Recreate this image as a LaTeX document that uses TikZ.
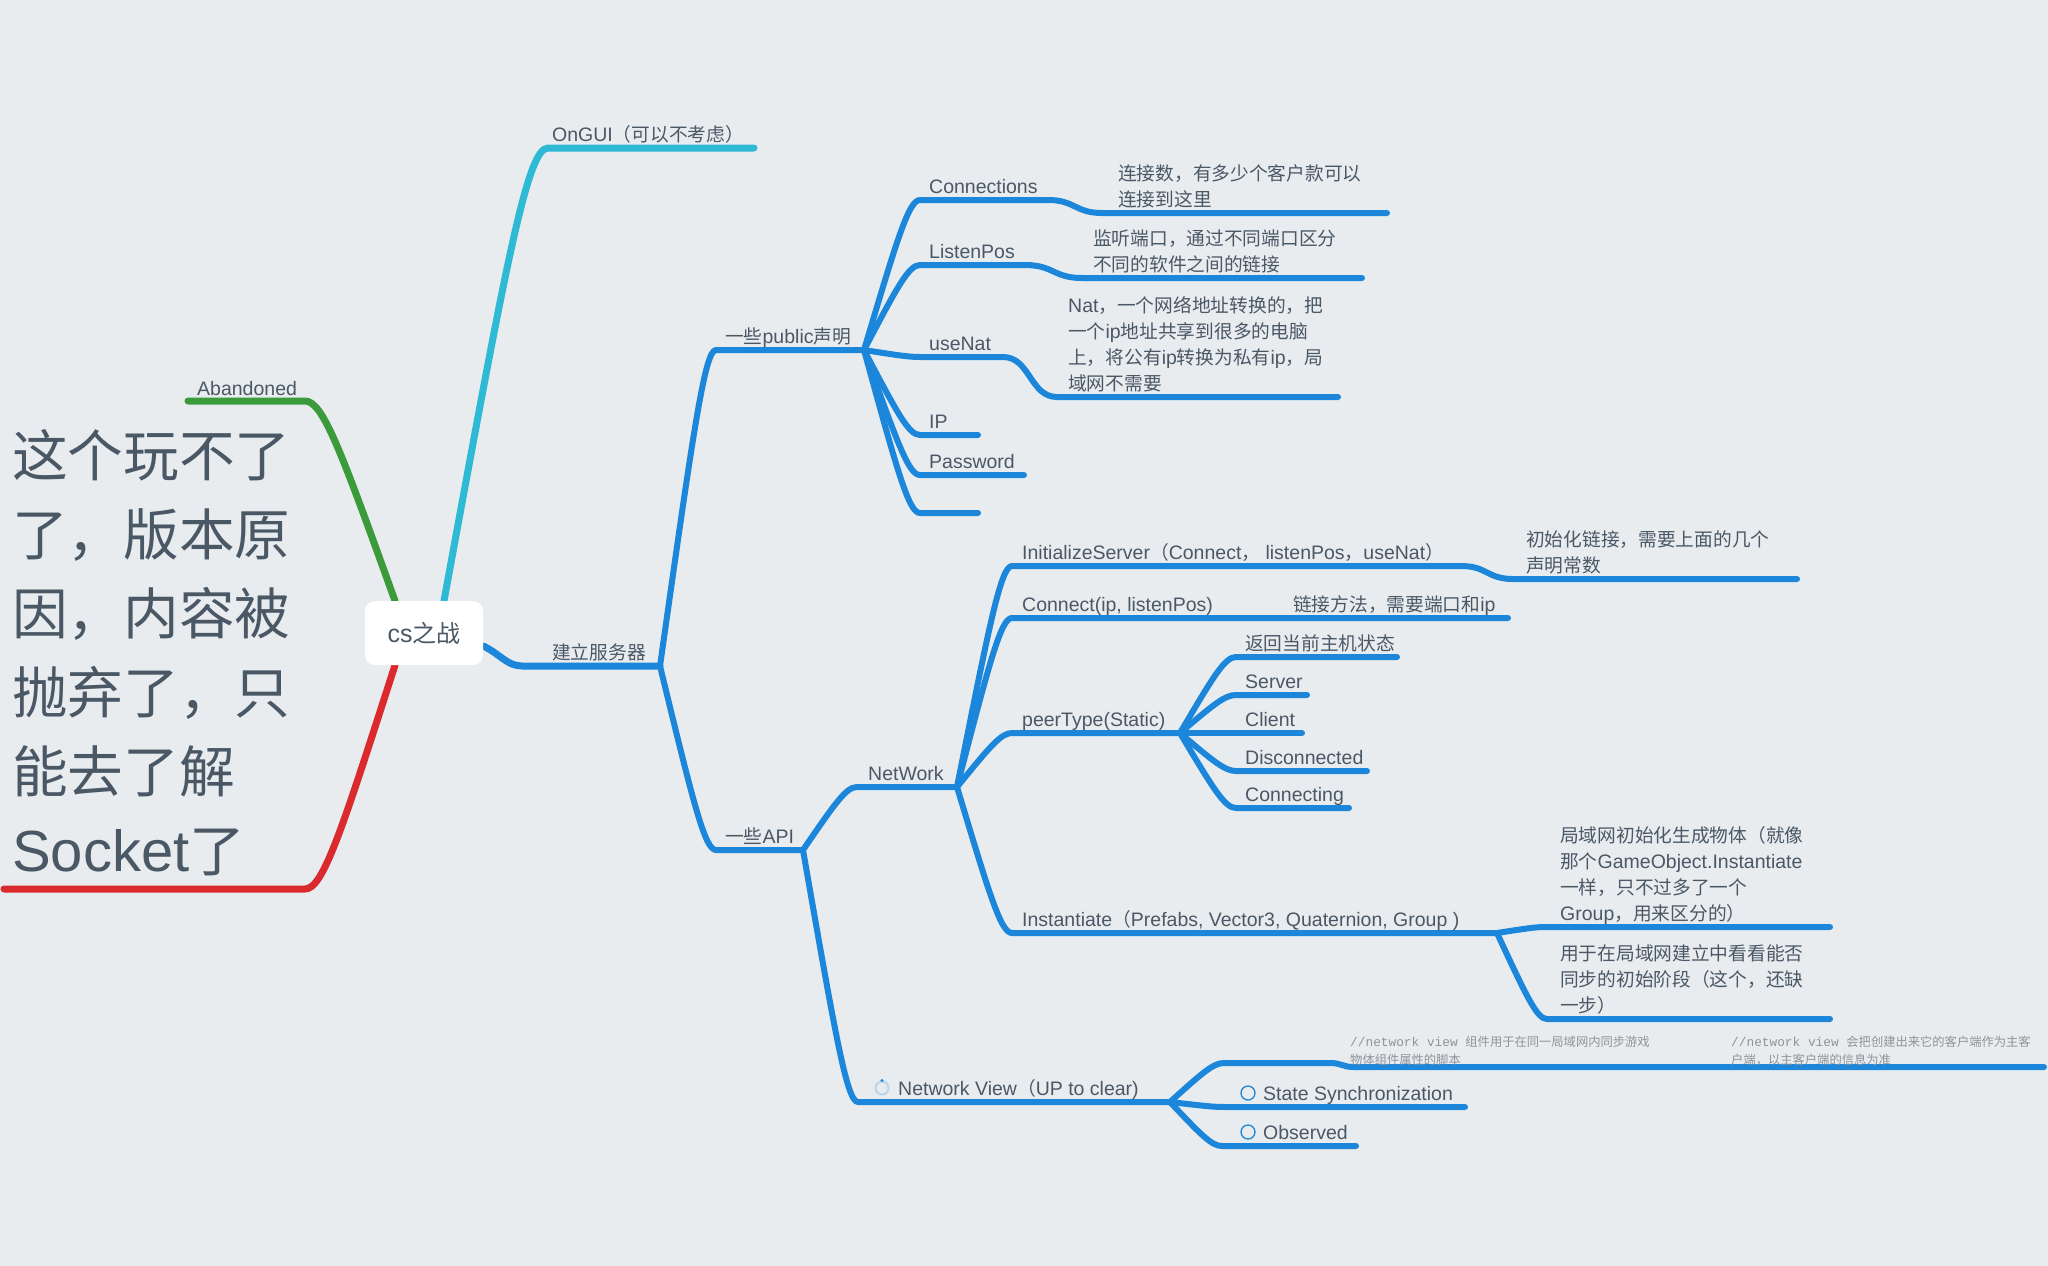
\documentclass[tikz,border=0pt]{standalone}
\usepackage{fontspec}
\setmainfont{Liberation Sans}
\newfontfamily\cjk{Noto Sans CJK SC}[Scale=0.96]
\newfontfamily\mono{Liberation Mono}
\usetikzlibrary{calc,backgrounds}

\definecolor{bg}{HTML}{E8ECEF}
\definecolor{ink}{HTML}{4A5866}
\definecolor{notegray}{HTML}{8E9499}
\definecolor{mmblue}{HTML}{1B86DA}
\definecolor{mmcyan}{HTML}{2EBAD5}
\definecolor{mmgreen}{HTML}{3B9B3B}
\definecolor{mmred}{HTML}{DA2A2E}
\definecolor{ringlight}{HTML}{BCD5EB}

\tikzset{
  % branch curve: steep run out of the parent, rounding into the child's underline
  mm/.style={to path={let \p1=(\tikztostart), \p2=(\tikztotarget) in
      .. controls ({\x1+0.6*(\x2-\x1)},{\y1+0.75*(\y2-\y1)}) and ({\x1+0.8*(\x2-\x1)},\y2) .. (\tikztotarget)}},
  % small step between two horizontal underline levels
  dip/.style={to path={let \p1=(\tikztostart), \p2=(\tikztotarget) in
      .. controls ({0.5*(\x1+\x2)},\y1) and ({0.5*(\x1+\x2)},\y2) .. (\tikztotarget)}},
  wire/.style={draw=mmblue, line width=6pt, line cap=round, line join=round},
  trunk/.style={wire, line width=7pt},
  lbl/.style={anchor=base west, inner sep=0pt, text=ink, font=\fontsize{19.5}{26}\selectfont},
  notetext/.style={anchor=base west, inner sep=0pt, text=notegray, font=\fontsize{12.8}{18}\selectfont},
  bigtext/.style={anchor=base west, inner sep=0pt, text=ink, font=\fontsize{58}{79}\selectfont},
  ring/.style={circle, draw=mmblue, line width=1.3pt, minimum size=14pt, inner sep=0pt},
}

\begin{document}
\begin{tikzpicture}[x=1pt, y=-1pt]
\useasboundingbox (0,0) rectangle (2048,1266);

% central topic
\node[fill=white, rounded corners=10pt, minimum width=118pt, minimum height=64pt,
      inner sep=0pt, text=ink, font=\fontsize{25}{28}\selectfont] (root) at (424,633) {cs{\cjk 之战}};

% branch anchor points
\coordinate (cyS0) at ($(root.north)+(20,0)$);
\coordinate (grS0) at ($(root.north)+(-29,0)$);
\coordinate (rdS0) at ($(root.south)+(-29,0)$);
\coordinate (blS0) at ($(root.east)+(0,13)$);

\coordinate (guiS) at (548,148);  \coordinate (guiE) at (754,148);
\coordinate (abS)  at (305,401);  \coordinate (abE)  at (188,401);
\coordinate (rdS)  at (305,889);  \coordinate (rdE)  at (4,889);
\coordinate (srvS) at (522,666);  \coordinate (srvE) at (660,666);

\coordinate (pubS) at (716,350);  \coordinate (pubE) at (864,350);
\coordinate (apiS) at (716,850);  \coordinate (apiE) at (803,850);

\coordinate (conS) at (920,200);  \coordinate (conA) at (1048,200);
\coordinate (conB) at (1102,213); \coordinate (conE) at (1387,213);
\coordinate (lisS) at (920,265);  \coordinate (lisA) at (1025,265);
\coordinate (lisB) at (1082,278); \coordinate (lisE) at (1362,278);
\coordinate (natS) at (920,357);  \coordinate (natA) at (1003,357);
\coordinate (natB) at (1057,397); \coordinate (natE) at (1338,397);
\coordinate (ipS)  at (920,435);  \coordinate (ipE)  at (978,435);
\coordinate (pwS)  at (920,475);  \coordinate (pwE)  at (1024,475);
\coordinate (nilS) at (920,513);  \coordinate (nilE) at (978,513);

\coordinate (netS) at (857,787);  \coordinate (netE) at (957,787);
\coordinate (nvS)  at (858,1102); \coordinate (nvE)  at (1170,1102);

\coordinate (isS) at (1012,566);  \coordinate (isA) at (1461,566);
\coordinate (isB) at (1513,579);  \coordinate (isE) at (1797,579);
\coordinate (cnS) at (1012,618);  \coordinate (cnA) at (1285,618);
\coordinate (cnE) at (1508,618);
\coordinate (ptS) at (1012,733);  \coordinate (ptE) at (1180,733);
\coordinate (inS) at (1012,933);  \coordinate (inE) at (1497,933);

\coordinate (p1S) at (1236,657);  \coordinate (p1E) at (1397,657);
\coordinate (p2S) at (1236,695);  \coordinate (p2E) at (1307,695);
\coordinate (p3S) at (1236,733);  \coordinate (p3E) at (1302,733);
\coordinate (p4S) at (1236,771);  \coordinate (p4E) at (1367,771);
\coordinate (p5S) at (1236,808);  \coordinate (p5E) at (1349,808);

\coordinate (i1S) at (1545,927);  \coordinate (i1E) at (1830,927);
\coordinate (i2S) at (1547,1019); \coordinate (i2E) at (1830,1019);

\coordinate (c1S) at (1224,1063); \coordinate (c1A) at (1330,1063);
\coordinate (c1B) at (1354,1067); \coordinate (c1M) at (1722,1067);
\coordinate (c1E) at (2044,1067);
\coordinate (ssS) at (1224,1107); \coordinate (ssE) at (1465,1107);
\coordinate (obS) at (1222,1146); \coordinate (obE) at (1356,1146);

% labels
\node[lbl] (ongui) at (552,141) {OnGUI{\cjk （可以不考虑）}};
\node[lbl] (aband) at (197,395) {Abandoned};
\node[bigtext] (socket) at (12,476) {\vtop{\hbox{\cjk 这个玩不了}\hbox{\cjk 了，版本原}\hbox{\cjk 因，内容被}\hbox{\cjk 抛弃了，只}\hbox{\cjk 能去了解}\hbox{Socket{\cjk 了}}}};
\node[lbl] (server) at (552,659) {{\cjk 建立服务器}};
\node[lbl] (pub) at (725,343) {{\cjk 一些}public{\cjk 声明}};
\node[lbl] (api) at (725,843) {{\cjk 一些}API};

\node[lbl] (conn) at (929,193) {Connections};
\node[lbl] (connD) at (1118,180) {\vtop{\hbox{\cjk 连接数，有多少个客户款可以}\hbox{\cjk 连接到这里}}};
\node[lbl] (listen) at (929,258) {ListenPos};
\node[lbl] (listenD) at (1093,245) {\vtop{\hbox{\cjk 监听端口，通过不同端口区分}\hbox{\cjk 不同的软件之间的链接}}};
\node[lbl] (nat) at (929,350) {useNat};
\node[lbl] (natD) at (1068,312) {\vtop{\hbox{Nat{\cjk ，一个网络地址转换的，把}}\hbox{{\cjk 一个}ip{\cjk 地址共享到很多的电脑}}\hbox{{\cjk 上，将公有}ip{\cjk 转换为私有}ip{\cjk ，局}}\hbox{\cjk 域网不需要}}};
\node[lbl] (ip) at (929,428) {IP};
\node[lbl] (pw) at (929,468) {Password};

\node[lbl] (net) at (868,780) {NetWork};
\node[lbl] (init) at (1022,559) {InitializeServer{\cjk （}Connect{\cjk ，}\ listenPos{\cjk ，}useNat{\cjk ）}};
\node[lbl] (initD) at (1526,546) {\vtop{\hbox{\cjk 初始化链接，需要上面的几个}\hbox{\cjk 声明常数}}};
\node[lbl] (connect) at (1022,611) {Connect(ip, listenPos)};
\node[lbl] (connectD) at (1293,611) {{\cjk 链接方法，需要端口和}ip};
\node[lbl] (peer) at (1022,726) {peerType(Static)};
\node[lbl] (st0) at (1245,650) {{\cjk 返回当前主机状态}};
\node[lbl] (st1) at (1245,688) {Server};
\node[lbl] (st2) at (1245,726) {Client};
\node[lbl] (st3) at (1245,764) {Disconnected};
\node[lbl] (st4) at (1245,801) {Connecting};
\node[lbl] (inst) at (1022,926) {Instantiate{\cjk （}Prefabs, Vector3, Quaternion, Group )};
\node[lbl] (instD1) at (1560,842) {\vtop{\hbox{\cjk 局域网初始化生成物体（就像}\hbox{{\cjk 那个}GameObject.Instantiate}\hbox{\cjk 一样，只不过多了一个}\hbox{Group{\cjk ，用来区分的）}}}};
\node[lbl] (instD2) at (1560,960) {\vtop{\hbox{\cjk 用于在局域网建立中看看能否}\hbox{\cjk 同步的初始阶段（这个，还缺}\hbox{\cjk 一步）}}};

\node[circle, draw=ringlight, line width=2pt, minimum size=13pt, inner sep=0pt] (nvIcon) at (882,1088) {};
\fill[mmblue] (nvIcon.north) circle (1.7);
\node[lbl] (nview) at (898,1095) {Network View{\cjk （}UP to clear)};
\node[notetext] (nvD1) at (1350,1046) {\vtop{\hbox{{\mono //network view }{\cjk 组件用于在同一局域网内同步游戏}}\hbox{\cjk 物体组件属性的脚本}}};
\node[notetext] (nvD2) at (1731,1046) {\vtop{\hbox{{\mono //network view }{\cjk 会把创建出来它的客户端作为主客}}\hbox{\cjk 户端，以主客户端的信息为准}}};
\node[ring] (syncIcon) at (1248,1093) {};
\node[lbl] (sync) at (1263,1100) {State Synchronization};
\node[ring] (obsIcon) at (1248,1132) {};
\node[lbl] (obs) at (1263,1139) {Observed};

% connectors
\begin{scope}[on background layer]
\fill[bg] (0,0) rectangle (2048,1266);
\draw[trunk, draw=mmgreen] (grS0) to[mm] (abS) -- (abE);
\draw[trunk, draw=mmred] (rdS0) to[mm] (rdS) -- (rdE);
\draw[trunk, draw=mmcyan] (cyS0) to[mm] (guiS) -- (guiE);
\draw[trunk] (blS0) .. controls +(17,8) and +(-15,0) .. (srvS) -- (srvE);

\draw[wire] (srvE) to[mm] (pubS) -- (pubE);
\draw[wire] (srvE) to[mm] (apiS) -- (apiE);

\draw[wire] (pubE) to[mm] (conS) -- (conA) to[dip] (conB) -- (conE);
\draw[wire] (pubE) to[mm] (lisS) -- (lisA) to[dip] (lisB) -- (lisE);
\draw[wire] (pubE) to[mm] (natS) -- (natA) to[dip] (natB) -- (natE);
\draw[wire] (pubE) to[mm] (ipS) -- (ipE);
\draw[wire] (pubE) to[mm] (pwS) -- (pwE);
\draw[wire] (pubE) to[mm] (nilS) -- (nilE);

\draw[wire] (apiE) to[mm] (netS) -- (netE);
\draw[wire] (apiE) to[mm] (nvS) -- (nvE);

\draw[wire] (netE) to[mm] (isS) -- (isA) to[dip] (isB) -- (isE);
\draw[wire] (netE) to[mm] (cnS) -- (cnA) -- (cnE);
\draw[wire] (netE) to[mm] (ptS) -- (ptE);
\draw[wire] (netE) to[mm] (inS) -- (inE);

\draw[wire] (ptE) to[mm] (p1S) -- (p1E);
\draw[wire] (ptE) to[mm] (p2S) -- (p2E);
\draw[wire] (ptE) to[mm] (p3S) -- (p3E);
\draw[wire] (ptE) to[mm] (p4S) -- (p4E);
\draw[wire] (ptE) to[mm] (p5S) -- (p5E);

\draw[wire] (inE) to[mm] (i1S) -- (i1E);
\draw[wire] (inE) to[mm] (i2S) -- (i2E);

\draw[wire] (nvE) to[mm] (c1S) -- (c1A) to[dip] (c1B) -- (c1M) -- (c1E);
\draw[wire] (nvE) to[mm] (ssS) -- (ssE);
\draw[wire] (nvE) to[mm] (obS) -- (obE);
\end{scope}
\end{tikzpicture}
\end{document}
